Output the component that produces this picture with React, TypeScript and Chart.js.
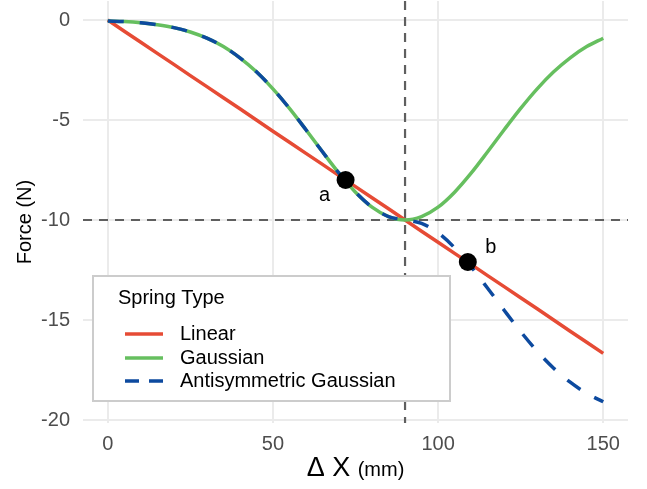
import React, { useEffect, useRef } from 'react';
import { Chart, registerables } from 'chart.js';

Chart.register(...registerables);

// ---- data ----
const xValues = [0, 5, 10, 15, 20, 25, 30, 35, 40, 45, 50, 55, 60, 65, 70, 75, 80, 85, 90, 95, 100, 105, 110, 115, 120, 125, 130, 135, 140, 145, 150];
const linearForce = [0, -0.56, -1.11, -1.67, -2.22, -2.78, -3.33, -3.89, -4.44, -5, -5.56, -6.11, -6.67, -7.22, -7.78, -8.33, -8.89, -9.44, -10, -10.56, -11.11, -11.67, -12.22, -12.78, -13.33, -13.89, -14.44, -15, -15.56, -16.11, -16.67];
const gaussianForce = [-0.05, -0.08, -0.14, -0.24, -0.38, -0.6, -0.91, -1.33, -1.89, -2.59, -3.44, -4.42, -5.49, -6.59, -7.66, -8.61, -9.36, -9.83, -10, -9.83, -9.36, -8.61, -7.66, -6.59, -5.49, -4.42, -3.44, -2.59, -1.89, -1.33, -0.91];
const antisymForce = [-0.05, -0.08, -0.14, -0.24, -0.38, -0.6, -0.91, -1.33, -1.89, -2.59, -3.44, -4.42, -5.49, -6.59, -7.66, -8.61, -9.36, -9.83, -10, -10.17, -10.64, -11.39, -12.34, -13.41, -14.51, -15.58, -16.56, -17.41, -18.11, -18.67, -19.09];
const seriesNames = ['Linear', 'Gaussian', 'Antisymmetric Gaussian'];
const seriesColors = ['#E64B35', '#66BF5F', '#0D4A9F'];
const markX = [72, 109];
const markY = [-8, -12.1];
const markLabels = ['a', 'b'];
const refX = 90;
const refY = -10;
const xTicks = [0, 50, 100, 150];
const yTicks = [0, -5, -10, -15, -20];
const legendTitle = 'Spring Type';
const xTitleMain = 'Δ X';
const xTitleUnit = '(mm)';
const yTitle = 'Force (N)';

const FONT = "'Liberation Sans', Arial, sans-serif";

const toPoints = (ys: number[]) => xValues.map((x, i) => ({ x, y: ys[i] }));

const overlayPlugin = {
  id: 'overlay',
  beforeDatasetsDraw(chart: any) {
    const { ctx, chartArea: a, scales } = chart;
    const px = scales.x.getPixelForValue(refX);
    const py = scales.y.getPixelForValue(refY);
    ctx.save();
    ctx.beginPath();
    ctx.rect(a.left, a.top, a.right - a.left, a.bottom - a.top);
    ctx.clip();
    ctx.strokeStyle = '#5f5f5f';
    ctx.lineWidth = 2.2;
    ctx.setLineDash([9, 7]);
    ctx.beginPath();
    ctx.moveTo(px, a.top);
    ctx.lineTo(px, a.bottom);
    ctx.stroke();
    ctx.beginPath();
    ctx.moveTo(a.left, py);
    ctx.lineTo(a.right, py);
    ctx.stroke();
    ctx.restore();
  },
  afterDraw(chart: any) {
    const { ctx, chartArea: a, scales } = chart;
    ctx.save();
    // point labels
    const offs = [[-21, 15], [23, -15]];
    ctx.fillStyle = '#000';
    ctx.font = `20px ${FONT}`;
    ctx.textAlign = 'center';
    ctx.textBaseline = 'middle';
    markLabels.forEach((t, i) => {
      const x = scales.x.getPixelForValue(markX[i]) + offs[i][0];
      const y = scales.y.getPixelForValue(markY[i]) + offs[i][1];
      ctx.fillText(t, x, y);
    });

    // y title
    ctx.save();
    ctx.translate(25, 222);
    ctx.rotate(-Math.PI / 2);
    ctx.font = `20px ${FONT}`;
    ctx.fillStyle = '#000';
    ctx.textAlign = 'center';
    ctx.textBaseline = 'middle';
    ctx.fillText(yTitle, 0, 0);
    ctx.restore();

    // x title (mixed sizes)
    const bigFont = `27px ${FONT}`;
    const smallFont = `20px ${FONT}`;
    ctx.font = bigFont;
    const w1 = ctx.measureText(xTitleMain + ' ').width;
    ctx.font = smallFont;
    const w2 = ctx.measureText(xTitleUnit).width;
    const cx = (a.left + a.right) / 2;
    const sx = cx - (w1 + w2) / 2;
    const base = 476;
    ctx.textAlign = 'left';
    ctx.textBaseline = 'alphabetic';
    ctx.font = bigFont;
    ctx.fillText(xTitleMain + ' ', sx, base);
    ctx.font = smallFont;
    ctx.fillText(xTitleUnit, sx + w1, base);

    // legend
    const L = 93, T = 276, R = 450, B = 401;
    ctx.fillStyle = '#ffffff';
    ctx.fillRect(L, T, R - L, B - T);
    ctx.strokeStyle = '#cccccc';
    ctx.lineWidth = 2;
    ctx.setLineDash([]);
    ctx.strokeRect(L, T, R - L, B - T);
    ctx.fillStyle = '#000';
    ctx.font = `20px ${FONT}`;
    ctx.textAlign = 'left';
    ctx.textBaseline = 'middle';
    ctx.fillText(legendTitle, 118, 298);
    const rows = [334, 358, 381];
    seriesNames.forEach((name, i) => {
      ctx.strokeStyle = seriesColors[i];
      ctx.lineWidth = 3.5;
      ctx.setLineDash(i === 2 ? [14, 10] : []);
      ctx.beginPath();
      ctx.moveTo(125, rows[i]);
      ctx.lineTo(163, rows[i]);
      ctx.stroke();
      ctx.setLineDash([]);
      ctx.fillStyle = '#000';
      ctx.fillText(name, 180, rows[i]);
    });
    ctx.restore();
  },
};

export default function App() {
  const ref = useRef<HTMLCanvasElement | null>(null);
  useEffect(() => {
    document.body.style.margin = '0';
    const canvas = ref.current!;
    const chart = new Chart(canvas, {
      type: 'line',
      data: {
        datasets: [
          {
            label: seriesNames[0],
            data: toPoints(linearForce),
            borderColor: seriesColors[0],
            borderWidth: 3.5,
            pointRadius: 0,
            fill: false,
            order: 4,
          },
          {
            label: seriesNames[1],
            data: toPoints(gaussianForce),
            borderColor: seriesColors[1],
            borderWidth: 3.5,
            pointRadius: 0,
            cubicInterpolationMode: 'monotone',
            fill: false,
            order: 3,
          },
          {
            label: seriesNames[2],
            data: toPoints(antisymForce),
            borderColor: seriesColors[2],
            borderWidth: 3.5,
            borderDash: [16, 16],
            borderCapStyle: 'butt',
            pointRadius: 0,
            cubicInterpolationMode: 'monotone',
            fill: false,
            order: 2,
          },
          {
            label: 'marks',
            data: markX.map((x, i) => ({ x, y: markY[i] })),
            showLine: false,
            pointRadius: 9,
            pointHoverRadius: 9,
            pointBackgroundColor: '#000',
            pointBorderColor: '#000',
            pointBorderWidth: 0,
            order: 1,
          } as any,
        ],
      },
      plugins: [overlayPlugin],
      options: {
        responsive: false,
        animation: false,
        maintainAspectRatio: false,
        layout: { autoPadding: false, padding: { top: 1, right: 19, left: 0, bottom: 0 } },
        plugins: { legend: { display: false }, tooltip: { enabled: false } },
        scales: {
          x: {
            type: 'linear',
            min: -7.5,
            max: 157.5,
            afterBuildTicks: (s: any) => { s.ticks = xTicks.map((v) => ({ value: v })); },
            afterFit: (s: any) => {
              s.height = 66;
              s.paddingLeft = 0; s.paddingRight = 0; s.paddingTop = 0; s.paddingBottom = 0;
            },
            border: { display: false },
            grid: { color: '#EBEBEB', lineWidth: 2, drawTicks: false },
            ticks: {
              padding: 9,
              color: '#4D4D4D',
              font: { family: FONT, size: 20 },
              callback: (v: any) => String(v),
            },
          },
          y: {
            type: 'linear',
            min: -20.15,
            max: 0.95,
            afterBuildTicks: (s: any) => { s.ticks = yTicks.map((v) => ({ value: v })); },
            afterFit: (s: any) => {
              s.width = 83;
              s.paddingLeft = 0; s.paddingRight = 0; s.paddingTop = 0; s.paddingBottom = 0;
            },
            border: { display: false },
            grid: { color: '#EBEBEB', lineWidth: 2, drawTicks: false },
            ticks: {
              padding: 13,
              color: '#4D4D4D',
              font: { family: FONT, size: 20 },
              callback: (v: any) => String(v),
            },
          },
        },
      },
    });
    return () => chart.destroy();
  }, []);
  return <canvas ref={ref} width={647} height={489} style={{ display: 'block' }} />;
}
